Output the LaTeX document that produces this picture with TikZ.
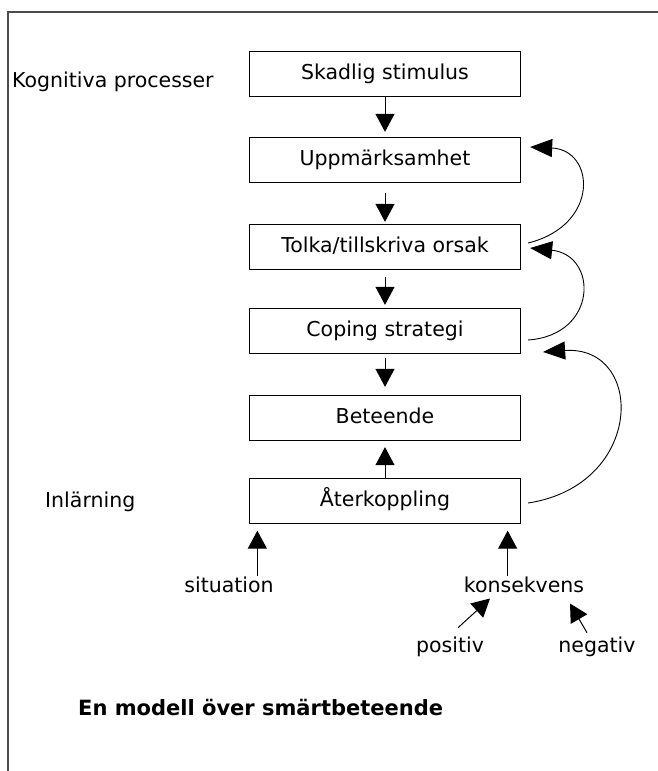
\documentclass[tikz,border=0pt]{standalone}
\usepackage{fontspec}
\setmainfont{DejaVu Sans}
\usetikzlibrary{arrows.meta}

\tikzset{
    ruta/.style={draw, line width=1.3pt, minimum width=271pt, minimum height=45pt,
        text height=15pt, text depth=4.5pt, inner sep=0pt},
    etikett/.style={inner sep=0pt},
    pil/.style={line width=1pt, -{Triangle[width=19pt,length=18pt]}},
    kurva/.style={line width=0.9pt, -{Triangle[width=18pt,length=22pt]}}
}

\begin{document}
\begin{tikzpicture}[x=1pt, y=-1pt, font=\fontsize{20.5}{24}\selectfont]
    \useasboundingbox (0,0) rectangle (657,771);

    % Ram
    \draw[line width=2pt, black!70] (662,12) -- (8,12) -- (8,776);

    % Rutor
    \node[ruta] (skadlig) at (385,74) {Skadlig stimulus};
    \node[ruta] (upp) at (385,160) {Uppmärksamhet};
    \node[ruta] (tolka) at (385,247) {Tolka/tillskriva orsak};
    \node[ruta] (coping) at (385,331) {Coping strategi};
    \node[ruta] (beteende) at (385,418) {Beteende};
    \node[ruta] (aterk) at (385,501) {Återkoppling};

    % Etiketter
    \node[etikett, anchor=base west] (kognitiva) at (12,87) {Kognitiva processer};
    \node[etikett, anchor=base west] (inlarning) at (45,507) {Inlärning};
    \node[etikett, anchor=base] (situation) at (229,592) {situation};
    \node[etikett, anchor=base] (konsekvens) at (524,592) {konsekvens};
    \node[etikett, anchor=base] (positiv) at (450,652) {positiv};
    \node[etikett, anchor=base] (negativ) at (597,652) {negativ};
    \node[etikett, anchor=base west, font=\fontsize{21}{25}\selectfont\bfseries] (rubrik) at (78,715) {En modell över smärtbeteende};

    % Pilar mellan rutorna
    \foreach \fran/\till/\s/\e in {skadlig/upp/0/5, upp/tolka/10/2, tolka/coping/7/3, coping/beteende/4/8, aterk/beteende/0/6}
        \draw[pil, shorten <=\s pt, shorten >=\e pt] (\fran) -- (\till);

    % Kurvor tillbaka
    \draw[kurva] ([xshift=7pt,yshift=4pt]tolka.east) .. controls +(72,-18) and +(65,3) .. ([xshift=9pt,yshift=13pt]upp.east);
    \draw[kurva] ([xshift=7pt,yshift=-9pt]coping.east) .. controls +(70,-5) and +(68,7) .. ([xshift=9pt,yshift=-1pt]tolka.east);
    \draw[kurva] ([xshift=7pt,yshift=-2pt]aterk.east) .. controls +(117,-18) and +(102,-7) .. ([xshift=22pt,yshift=-21pt]coping.east);

    % Pilar nedifraan
    \coordinate (sitin) at ([xshift=8.5pt,yshift=-6.5pt]aterk.south west);
    \coordinate (konsin) at ([xshift=-13.5pt,yshift=-6.5pt]aterk.south east);
    \draw[pil] (situation.north -| sitin) -- (sitin);
    \draw[pil] (konsekvens.north -| konsin) -- (konsin);
    \draw[pil] ([xshift=8pt,yshift=8.5pt]positiv.north) -- ([xshift=-34pt,yshift=-6pt]konsekvens.south);
    \draw[pil] ([xshift=-10pt,yshift=3.5pt]negativ.north) -- ([xshift=46pt,yshift=-11pt]konsekvens.south);
\end{tikzpicture}
\end{document}
